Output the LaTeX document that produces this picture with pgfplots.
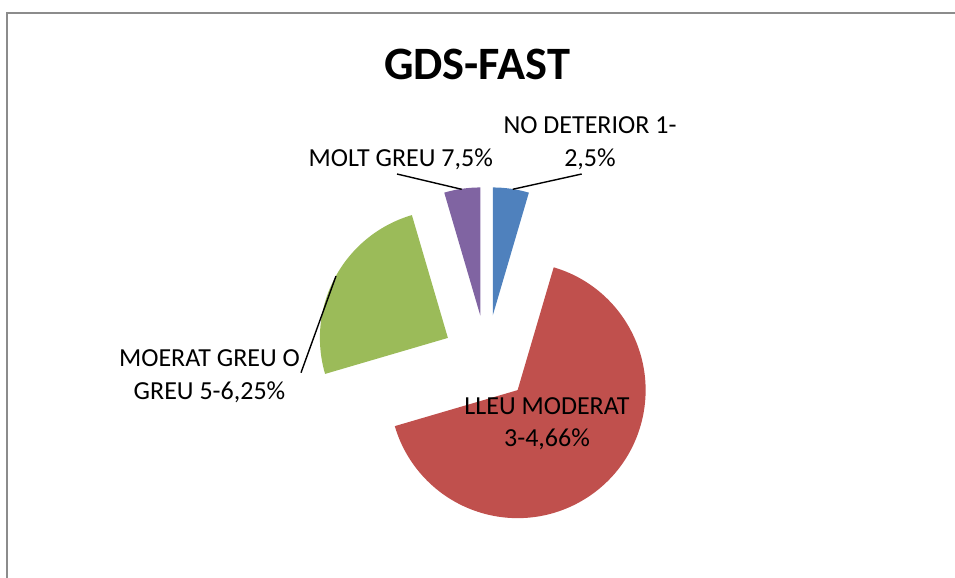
\documentclass[border=0pt]{standalone}
\usepackage{fontspec}
\setmainfont{Carlito}
\usepackage{pgfplots}
\usepackage{pgfplotstable}
\pgfplotsset{compat=1.18}
\definecolor{pBlue}{HTML}{4F81BD}
\definecolor{pRed}{HTML}{C0504D}
\definecolor{pGreen}{HTML}{9BBB59}
\definecolor{pPurple}{HTML}{8064A2}
\definecolor{frameG}{HTML}{8C8C8C}

% share of each GDS group (percent), clockwise from 12 o'clock
\pgfplotstableread{
group value color
12 4.55 pBlue
34 65.91 pRed
56 25.00 pGreen
7 4.55 pPurple
}\gdsdata

% pie centre (px), radius, explode distance
\def\cx{486.5}
\def\cy{359}
\def\explode{44}
\def\cum{0}
\foreach \i in {0,...,3}{%
  \pgfplotstablegetelem{\i}{value}\of\gdsdata
  \pgfmathsetmacro\va{90-\cum*3.6}%
  \pgfmathsetmacro\vb{90-(\cum+\pgfplotsretval)*3.6}%
  \pgfmathsetmacro\vc{\cum+\pgfplotsretval}%
  \xdef\cum{\vc}%
  \pgfmathsetmacro\vm{(\va+\vb)/2}%
  \pgfmathsetmacro\px{\cx+\explode*cos(\vm)}%
  \pgfmathsetmacro\py{\cy-\explode*sin(\vm)}%
  \pgfplotstablegetelem{\i}{color}\of\gdsdata
  \expandafter\xdef\csname slice\i\endcsname{{\px}{\py}{\va}{\vb}{\pgfplotsretval}}%
}
\newcommand\drawslice[5]{%
  \fill[#5] (axis cs:#1,#2) -- ++(#3:64bp) arc[start angle=#3, end angle=#4, radius=64bp] -- cycle;}
\newcommand\slice[1]{\expandafter\expandafter\expandafter\drawslice\csname slice#1\endcsname}

\tikzset{
  lab/.style={font=\fontsize{13bp}{15.6bp}\selectfont, inner sep=0pt, anchor=base},
  leader/.style={black, line width=0.7bp},
}

\begin{document}
\begin{tikzpicture}
\begin{axis}[
    width=477.5bp, height=289bp, scale only axis,
    xmin=0, xmax=955, ymin=0, ymax=578, y dir=reverse,
    hide axis, clip=false]
  \draw[frameG, line width=1bp] (axis cs:7,578) -- (axis cs:7,13) -- (axis cs:955,13);
  \slice{0}
  \slice{1}
  \slice{2}
  \slice{3}
  % leader lines
  \draw[leader] (axis cs:512.7,189.3) -- (axis cs:581.7,174);
  \draw[leader] (axis cs:461.7,189.3) -- (axis cs:397,174);
  \draw[leader] (axis cs:336,276) -- (axis cs:301,372.7);
  % labels
  \node[font=\fontsize{23.2bp}{27bp}\selectfont\bfseries, inner sep=0pt, anchor=base]
    at (axis cs:477,79.3) {GDS-FAST};
  \node[lab] at (axis cs:590,133.3) {NO DETERIOR 1-};
  \node[lab] at (axis cs:590,166) {2,5\%};
  \node[lab, anchor=base east] at (axis cs:493.3,166) {MOLT GREU 7,5\%};
  \node[lab] at (axis cs:209.5,366) {MOERAT GREU O};
  \node[lab] at (axis cs:209.5,399) {GREU 5-6,25\%};
  \node[lab] at (axis cs:547,414) {LLEU MODERAT};
  \node[lab] at (axis cs:547,446.7) {3-4,66\%};
\end{axis}
\pgfresetboundingbox
\path (current axis.south west) rectangle (current axis.north east);
\end{tikzpicture}
\end{document}
